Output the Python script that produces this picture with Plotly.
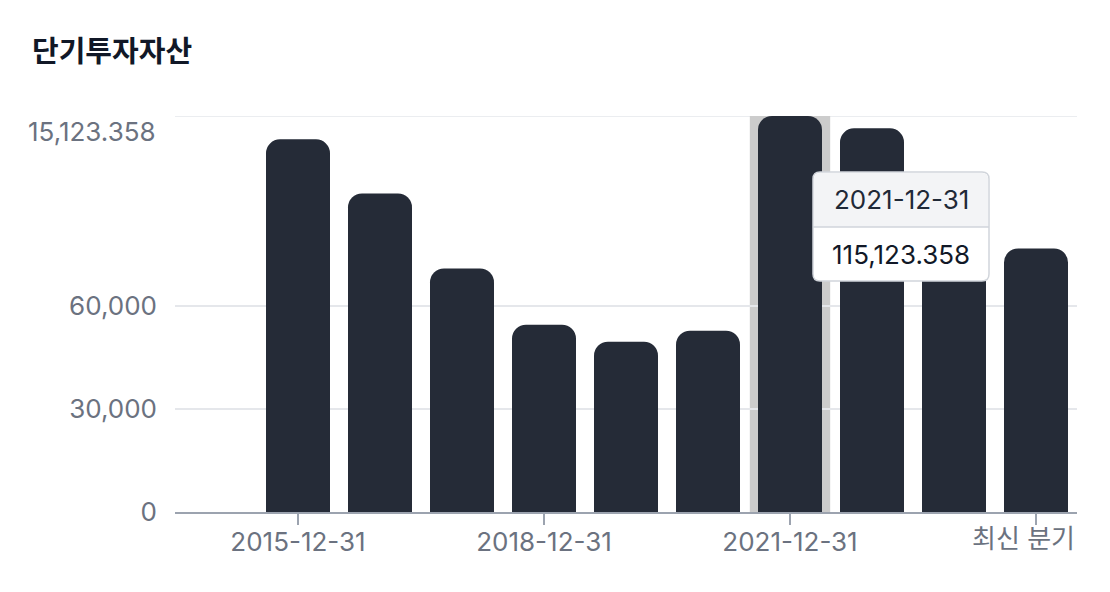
import plotly.graph_objects as go

# ---- data ----
categories = ["2015-12-31", "2016-12-31", "2017-12-31", "2018-12-31", "2019-12-31",
              "2020-12-31", "2021-12-31", "2022-12-31", "2023-12-31", "최신 분기"]
values = [108350, 92600, 70800, 54450, 49500, 52700, 115123.358, 111550, 95000, 76600]
tick_labels = ["2015-12-31", "2018-12-31", "2021-12-31", "최신 분기"]
y_tick_vals = [0, 30000, 60000, 115123.358]
y_tick_text = ["0", "30,000", "60,000", "15,123.358"]
title_text = "단기투자자산"
hover_index = 6

OFF = 8  # page body margin
W, H = 1102, 584
L, R, T, B = 167, 33, 108, 80
PW, PH = W - L - R, H - T - B
FONT = "Inter, 'Noto Sans CJK KR', sans-serif"
FS = 26
TICK_COLOR = "#6b7280"
GRID_COLOR = "#e5e7eb"

fig = go.Figure()
fig.add_trace(go.Bar(
    x=categories, y=values,
    marker=dict(color="#252b37", cornerradius=14, line=dict(width=0)),
    hoverinfo="skip",
))

# helpers: absolute page pixel -> paper coords (for overlays)
def px(xp):
    return (xp - OFF - L) / PW

def py(yp):
    return (OFF + H - B - yp) / PH

shapes = []
# top grid line at the max value
shapes.append(dict(type="line", xref="paper", yref="y",
                   x0=0, x1=1, y0=y_tick_vals[-1], y1=y_tick_vals[-1],
                   line=dict(color=GRID_COLOR, width=1.5), layer="below"))
# hover highlight band
shapes.append(dict(type="rect", xref="x", yref="paper",
                   x0=hover_index - 0.49, x1=hover_index + 0.49, y0=0, y1=1,
                   fillcolor="#cccccc", line=dict(width=0), layer="below"))

n_units = 11.0
unit = PW / n_units
center_px = OFF + L + (hover_index + 1.5) * unit
tx0, tx1 = center_px + 23, center_px + 199
ty0, ty1, tdiv = 172, 281, 227
r = 7

def rpath(x0, y0, x1, y1, rt, rb):
    p = []
    p.append(f"M {px(x0 + rt)},{py(y0)}")
    p.append(f"L {px(x1 - rt)},{py(y0)}")
    p.append(f"Q {px(x1)},{py(y0)} {px(x1)},{py(y0 + rt)}")
    p.append(f"L {px(x1)},{py(y1 - rb)}")
    p.append(f"Q {px(x1)},{py(y1)} {px(x1 - rb)},{py(y1)}")
    p.append(f"L {px(x0 + rb)},{py(y1)}")
    p.append(f"Q {px(x0)},{py(y1)} {px(x0)},{py(y1 - rb)}")
    p.append(f"L {px(x0)},{py(y0 + rt)}")
    p.append(f"Q {px(x0)},{py(y0)} {px(x0 + rt)},{py(y0)}")
    p.append("Z")
    return " ".join(p)

shapes.append(dict(type="path", xref="paper", yref="paper",
                   path=rpath(tx0, ty0, tx1, ty1, r, r),
                   fillcolor="#ffffff", line=dict(color="#d1d5db", width=1.5), layer="above"))
shapes.append(dict(type="path", xref="paper", yref="paper",
                   path=rpath(tx0 + 1, ty0 + 1, tx1 - 1, tdiv, r - 1, 0),
                   fillcolor="#f3f4f6", line=dict(width=0), layer="above"))
shapes.append(dict(type="line", xref="paper", yref="paper",
                   x0=px(tx0), x1=px(tx1), y0=py(tdiv), y1=py(tdiv),
                   line=dict(color="#d1d5db", width=1.5), layer="above"))

# tick labels: the top y label and last x label are drawn as annotations
# (they are nudged inside the chart in the reference)
x_tick_text = list(tick_labels[:-1]) + [""]
y_tick_text_axis = list(y_tick_text[:-1]) + [""]

annotations = [
    dict(text=categories[hover_index], xref="paper", yref="paper",
         x=px((tx0 + tx1) / 2), y=py((ty0 + tdiv) / 2), showarrow=False,
         xanchor="center", yanchor="middle",
         font=dict(family=FONT, size=FS, color="#1f2937")),
    dict(text=f"{values[hover_index]:,.3f}", xref="paper", yref="paper",
         x=px((tx0 + tx1) / 2), y=py((tdiv + ty1) / 2), showarrow=False,
         xanchor="center", yanchor="middle",
         font=dict(family=FONT, size=FS, color="#111827")),
    dict(text=f"<b>{title_text}</b>", xref="paper", yref="paper",
         x=px(30), y=py(49), showarrow=False, xanchor="left", yanchor="middle",
         font=dict(family="'Noto Sans CJK KR', sans-serif", size=29, color="#111827")),
    dict(text=y_tick_text[-1], xref="paper", yref="y",
         x=px(158), y=y_tick_vals[-1], yshift=-15, showarrow=False,
         xanchor="right", yanchor="middle",
         font=dict(family=FONT, size=FS, color=TICK_COLOR)),
    dict(text=tick_labels[-1], xref="x", yref="paper",
         x=tick_labels[-1], xshift=-13, y=py(538), showarrow=False,
         xanchor="center", yanchor="middle",
         font=dict(family=FONT, size=FS, color=TICK_COLOR)),
]

fig.update_layout(
    width=W, height=H,
    margin=dict(l=L, r=R, t=T, b=B),
    paper_bgcolor="white", plot_bgcolor="white",
    showlegend=False,
    bargap=18 / 82,
    shapes=shapes,
    annotations=annotations,
    hovermode=False,
    font=dict(family=FONT, size=FS, color=TICK_COLOR),
)
fig.update_xaxes(
    type="category", range=[-1.5, 9.5],
    tickmode="array", tickvals=tick_labels, ticktext=x_tick_text,
    ticks="outside", ticklen=11, tickwidth=1.5, tickcolor="#9ca3af",
    showline=True, linecolor="#9ca3af", linewidth=1.5,
    showgrid=False, zeroline=False,
    ticklabelstandoff=-5,
    tickfont=dict(family=FONT, size=FS, color=TICK_COLOR),
)
fig.update_yaxes(
    range=[0, 115123.358],
    tickmode="array", tickvals=y_tick_vals, ticktext=y_tick_text_axis,
    showgrid=True, gridcolor=GRID_COLOR, gridwidth=1.5,
    zeroline=False, showline=False, ticks="",
    ticklabelstandoff=17,
    tickfont=dict(family=FONT, size=FS, color=TICK_COLOR),
)

fig.write_html("out.html")
